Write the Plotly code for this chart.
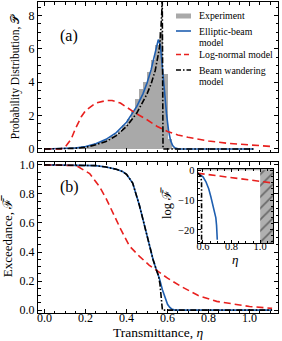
import plotly.graph_objects as go

# ---------------- data ----------------
# (a) histogram of experiment, bin width 0.02, bin centres
hist_x = [0.01, 0.03, 0.05, 0.07, 0.09, 0.11, 0.13, 0.15, 0.17, 0.19, 0.21, 0.23, 0.25, 0.27, 0.29,
          0.31, 0.33, 0.35, 0.37, 0.39, 0.41, 0.43, 0.45, 0.47, 0.49, 0.51, 0.53, 0.55, 0.57, 0.59, 0.61, 0.63]
hist_y = [0.02, 0.02, 0.02, 0.03, 0.03, 0.05, 0.06, 0.08, 0.10, 0.15, 0.20, 0.26, 0.33, 0.42, 0.52,
          0.62, 0.75, 0.92, 1.10, 1.45, 1.80, 2.30, 3.00, 3.60, 4.00, 4.60, 5.30, 6.20, 7.00, 4.50, 0.60, 0.05]

# (a) elliptic-beam model pdf
ell_x = [0.0, 0.10, 0.15, 0.20, 0.25, 0.30, 0.35, 0.40, 0.45, 0.48, 0.50, 0.52, 0.54, 0.55, 0.555,
         0.565, 0.575, 0.585, 0.595, 0.605, 0.615, 0.625, 0.635, 0.65, 0.70, 1.02]
ell_y = [0.0, 0.02, 0.06, 0.15, 0.32, 0.58, 0.98, 1.60, 2.55, 3.30, 3.95, 4.75, 5.90, 6.45, 6.55,
         6.20, 5.00, 3.50, 2.10, 1.10, 0.50, 0.20, 0.07, 0.01, 0.0, 0.0]

# (a) log-normal model pdf
lgn_x = [0.0, 0.08, 0.10, 0.13, 0.15, 0.18, 0.20, 0.25, 0.30, 0.33, 0.37, 0.40, 0.45, 0.50, 0.55,
         0.60, 0.65, 0.70, 0.80, 0.90, 1.00, 1.11]
lgn_y = [0.0, 0.01, 0.10, 0.60, 1.20, 1.95, 2.30, 2.75, 2.90, 2.90, 2.75, 2.50, 2.10, 1.75, 1.35,
         1.05, 0.84, 0.70, 0.48, 0.33, 0.24, 0.15]

# (a) beam-wandering model pdf
bw_x = [0.0, 0.10, 0.15, 0.20, 0.25, 0.30, 0.35, 0.40, 0.45, 0.50, 0.52, 0.54, 0.55, 0.56, 0.565,
        0.57, 0.572, 0.574, 0.578, 1.02]
bw_y = [0.0, 0.01, 0.04, 0.10, 0.25, 0.45, 0.80, 1.35, 2.15, 3.30, 3.90, 4.70, 5.30, 6.00, 6.60,
        7.40, 8.20, 9.50, 0.0, 0.0]

# (b) exceedance
ell_fx = [0.0, 0.20, 0.25, 0.30, 0.35, 0.38, 0.40, 0.43, 0.45, 0.463, 0.48, 0.50, 0.515, 0.53, 0.545,
          0.56, 0.575, 0.59, 0.60, 0.61, 0.62, 0.635, 1.11]
ell_f = [1.0, 1.0, 0.995, 0.985, 0.97, 0.955, 0.935, 0.875, 0.79, 0.72, 0.625, 0.51, 0.42, 0.345, 0.28,
         0.22, 0.14, 0.07, 0.04, 0.02, 0.008, 0.0, 0.0]

lgn_fx = [0.0, 0.10, 0.155, 0.22, 0.268, 0.30, 0.333, 0.374, 0.415, 0.463, 0.51, 0.56, 0.60, 0.67,
          0.75, 0.84, 0.92, 1.00, 1.11]
lgn_f = [1.0, 1.0, 0.995, 0.94, 0.85, 0.77, 0.67, 0.55, 0.44, 0.37, 0.31, 0.26, 0.22, 0.16,
         0.10, 0.06, 0.04, 0.025, 0.012]

bw_fx = [0.0, 0.20, 0.25, 0.30, 0.35, 0.38, 0.40, 0.43, 0.45, 0.463, 0.48, 0.50, 0.515, 0.53, 0.545,
         0.555, 0.563, 0.568, 0.572, 0.575, 1.11]
bw_f = [1.0, 1.0, 0.995, 0.985, 0.97, 0.955, 0.935, 0.875, 0.79, 0.72, 0.625, 0.51, 0.42, 0.345, 0.28,
        0.24, 0.18, 0.12, 0.05, 0.0, 0.0]

# inset: log of exceedance
ins_ell_x = [0.563, 0.58, 0.60, 0.62, 0.64, 0.655, 0.67, 0.68, 0.69, 0.695, 0.70]
ins_ell_y = [-1.0, -1.5, -2.2, -3.8, -6.2, -8.9, -11.8, -13.8, -16.0, -18.5, -23.3]
ins_lgn_x = [0.563, 0.70, 0.80, 0.90, 1.00, 1.09]
ins_lgn_y = [-1.0, -1.9, -2.6, -3.3, -3.9, -4.3]
ins_bw_x = [0.563, 0.585, 0.59, 0.59]
ins_bw_y = [-1.0, -2.0, -4.0, -25.0]

legend_labels = [["Experiment"], ["Elliptic-beam", "model"], ["Log-normal model"], ["Beam wandering", "model"]]

# ---------------- style ----------------
FONT = "Liberation Serif"
BLUE = "#1f5fb0"
RED = "#e8201e"
GRAY = "#a9a9a9"
W, H = 282, 341
DASH = "7px,4px"
DASHDOT = "6px,2px,1.5px,2px"


def px_x(p):
    return p / W


def px_y(p):
    return 1 - p / H


fig = go.Figure()

# top panel
fig.add_trace(go.Bar(x=hist_x, y=hist_y, width=0.02, marker=dict(color=GRAY, line=dict(width=0)),
                     name="Experiment", xaxis="x", yaxis="y"))
fig.add_trace(go.Scatter(x=ell_x, y=ell_y, mode="lines", line=dict(color=BLUE, width=1.6),
                         name="Elliptic-beam model", xaxis="x", yaxis="y"))
fig.add_trace(go.Scatter(x=lgn_x, y=lgn_y, mode="lines", line=dict(color=RED, width=1.6, dash=DASH),
                         name="Log-normal model", xaxis="x", yaxis="y"))
fig.add_trace(go.Scatter(x=bw_x, y=bw_y, mode="lines",
                         line=dict(color="black", width=1.6, dash=DASHDOT),
                         name="Beam wandering model", xaxis="x", yaxis="y"))

# bottom panel
fig.add_trace(go.Scatter(x=ell_fx, y=ell_f, mode="lines", line=dict(color=BLUE, width=1.6),
                         xaxis="x2", yaxis="y2"))
fig.add_trace(go.Scatter(x=lgn_fx, y=lgn_f, mode="lines", line=dict(color=RED, width=1.6, dash=DASH),
                         xaxis="x2", yaxis="y2"))
fig.add_trace(go.Scatter(x=bw_fx, y=bw_f, mode="lines",
                         line=dict(color="black", width=1.6, dash=DASHDOT),
                         xaxis="x2", yaxis="y2"))

# inset
INS_X = [0.563, 1.09]
INS_Y = [-24.5, 0.4]
fig.add_trace(go.Scatter(x=[1.0, INS_X[1], INS_X[1], 1.0, 1.0], y=[INS_Y[0], INS_Y[0], INS_Y[1], INS_Y[1], INS_Y[0]],
                         mode="lines", fill="toself", line=dict(width=0, color="rgba(0,0,0,0)"),
                         fillcolor="#b0b0b0",
                         fillpattern=dict(shape="/", bgcolor="#b0b0b0", fgcolor="#222222", size=8, solidity=0.22),
                         hoverinfo="skip", xaxis="x3", yaxis="y3"))
fig.add_trace(go.Scatter(x=[INS_X[0], INS_X[1], INS_X[1], INS_X[0], INS_X[0]], y=[0, 0, INS_Y[1], INS_Y[1], 0],
                         mode="lines", fill="toself", line=dict(width=0, color="rgba(0,0,0,0)"),
                         fillcolor="#a9a9a9", hoverinfo="skip", xaxis="x3", yaxis="y3"))
fig.add_trace(go.Scatter(x=ins_ell_x, y=ins_ell_y, mode="lines", line=dict(color=BLUE, width=1.6),
                         xaxis="x3", yaxis="y3"))
fig.add_trace(go.Scatter(x=ins_lgn_x, y=ins_lgn_y, mode="lines", line=dict(color=RED, width=1.6, dash=DASH),
                         xaxis="x3", yaxis="y3"))
fig.add_trace(go.Scatter(x=ins_bw_x, y=ins_bw_y, mode="lines",
                         line=dict(color="black", width=1.6, dash="5px,2px,1.5px,2px"),
                         xaxis="x3", yaxis="y3"))

tickfont = dict(family=FONT, size=12, color="black")
axcommon = dict(showline=True, linecolor="black", linewidth=1, mirror="allticks", ticks="inside",
                ticklen=4, tickwidth=0.8, tickcolor="black", showgrid=False, zeroline=False,
                automargin=False, tickfont=tickfont)
insfont = dict(family=FONT, size=10.5, color="black")

# ---- legend drawn as shapes + text (positions in pixels) ----
LEG_SYM_X = (176, 191)
LEG_TEXT_X = 197
leg_rows = [[16], [31, 42.5], [54.5], [70, 81.5]]
leg_styles = [None, dict(color=BLUE, width=1.6), dict(color=RED, width=1.6, dash="5px,3px"),
              dict(color="black", width=1.6, dash="5px,2px,1.5px,2px")]
shapes = []
annotations = []
for labels, rows, sty in zip(legend_labels, leg_rows, leg_styles):
    yc = rows[0]
    if sty is None:
        shapes.append(dict(type="rect", xref="paper", yref="paper", x0=px_x(LEG_SYM_X[0]), x1=px_x(LEG_SYM_X[1]),
                           y0=px_y(yc + 2.5), y1=px_y(yc - 2.5), fillcolor=GRAY, line=dict(width=0)))
    else:
        shapes.append(dict(type="line", xref="paper", yref="paper", x0=px_x(LEG_SYM_X[0]), x1=px_x(LEG_SYM_X[1]),
                           y0=px_y(yc), y1=px_y(yc), line=sty))
    for lab, yr in zip(labels, rows):
        annotations.append(dict(text=lab, x=px_x(LEG_TEXT_X), y=px_y(yr), xref="paper", yref="paper",
                                xanchor="left", yanchor="middle", showarrow=False,
                                font=dict(family=FONT, size=9.8, color="black")))

annotations += [
    dict(text="(a)", x=px_x(58), y=px_y(25), xref="paper", yref="paper", showarrow=False,
         font=dict(family=FONT, size=16)),
    dict(text="(b)", x=px_x(58), y=px_y(187), xref="paper", yref="paper", showarrow=False,
         font=dict(family=FONT, size=16)),
    dict(text="log ℱ\u0305", x=px_x(167), y=px_y(203), xref="paper", yref="paper", showarrow=False,
         textangle=-90, font=dict(family=FONT, size=12.5)),
]

XR = [-0.032, 1.139]
fig.update_layout(
    width=W, height=H,
    margin=dict(l=0, r=0, t=0, b=0),
    paper_bgcolor="white", plot_bgcolor="white",
    font=dict(family=FONT, color="black"),
    bargap=0,
    showlegend=False,
    shapes=shapes,
    annotations=annotations,
    xaxis=dict(domain=[px_x(38), px_x(278)], anchor="y", range=XR, tick0=0, dtick=0.2,
               showticklabels=False,
               minor=dict(ticks="inside", ticklen=2.5, dtick=0.05, tick0=0, tickcolor="black"), **axcommon),
    yaxis=dict(domain=[px_y(152), px_y(2)], anchor="x", range=[-0.18, 8.8], tick0=0, dtick=2,
               minor=dict(ticks="inside", ticklen=2.5, dtick=0.5, tick0=0, tickcolor="black"),
               title=dict(text="Probability Distribution, 𝒫", font=dict(family=FONT, size=11.5), standoff=6),
               **axcommon),
    xaxis2=dict(domain=[px_x(38), px_x(278)], anchor="y2", range=XR, tick0=0, dtick=0.2,
                tickformat=".1f", ticklabelstandoff=-6,
                minor=dict(ticks="inside", ticklen=2.5, dtick=0.05, tick0=0, tickcolor="black"),
                title=dict(text="Transmittance, <i>η</i>", font=dict(family=FONT, size=13.5), standoff=1),
                **axcommon),
    yaxis2=dict(domain=[px_y(313), px_y(162)], anchor="x2", range=[-0.02, 1.02], tick0=0, dtick=0.2,
                tickformat=".1f",
                minor=dict(ticks="inside", ticklen=2.5, dtick=0.05, tick0=0, tickcolor="black"),
                title=dict(text="Exceedance, ℱ\u0305", font=dict(family=FONT, size=13), standoff=6),
                **axcommon),
    xaxis3=dict(domain=[px_x(197.7), px_x(273)], anchor="y3", range=INS_X, tickvals=[0.6, 0.8, 1.0],
                ticktext=["0.6", "0.8", "1.0"], ticklabelstandoff=-7,
                minor=dict(ticks="inside", ticklen=2, dtick=0.05, tick0=0, tickcolor="black"),
                title=dict(text="<i>η</i>", font=dict(family=FONT, size=13), standoff=0),
                **{**axcommon, "tickfont": insfont, "ticklen": 3}),
    yaxis3=dict(domain=[px_y(243.3), px_y(169)], anchor="x3", range=INS_Y, tickvals=[0, -10, -20],
                minor=dict(ticks="inside", ticklen=2, dtick=2, tick0=0, tickcolor="black"),
                **{**axcommon, "tickfont": insfont, "ticklen": 3}),
)

fig.write_html("out.html", config={"displayModeBar": False},
               post_script="document.body.style.margin='0';document.body.style.padding='0';"
                           "document.body.style.overflow='hidden';")
